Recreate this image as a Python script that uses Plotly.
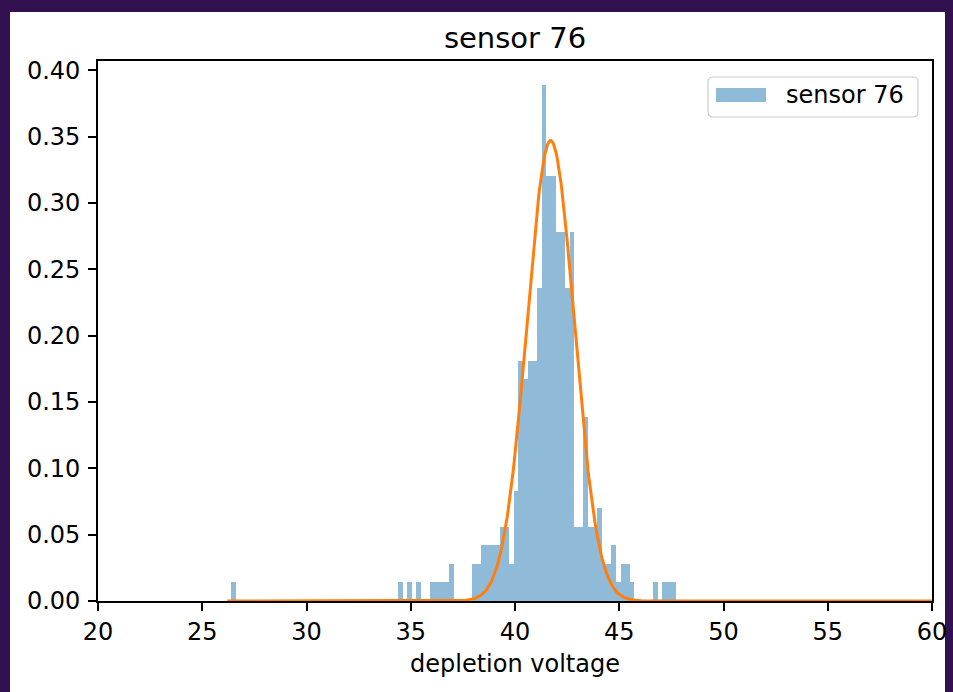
import numpy as np
import plotly.graph_objects as go

# ---------------- data ----------------
title_text = "sensor 76"
series_name = "sensor 76"
x_label = "depletion voltage"

bin_start = 26.15      # left edge of histogram bin 0
bin_width = 0.2225     # histogram bin width

# histogram bins (index from bin_start) and their density heights
bin_index = [1,
             37, 39, 41, 44, 45, 46, 47, 48,
             53, 54, 55, 56, 57, 58,
             59, 60, 61, 62,
             63, 64, 65, 66,
             67, 68, 69, 70,
             71, 72, 73, 74,
             75, 76, 77, 78, 79, 80,
             81, 82, 83, 84, 85, 86, 87,
             92, 94, 95, 96]
density = [0.014,
           0.014, 0.014, 0.014, 0.014, 0.014, 0.014, 0.014, 0.028,
           0.028, 0.028, 0.042, 0.042, 0.042, 0.042,
           0.056, 0.056, 0.028, 0.083,
           0.181, 0.167, 0.181, 0.181,
           0.236, 0.389, 0.320, 0.320,
           0.278, 0.278, 0.236, 0.278,
           0.056, 0.056, 0.139, 0.056, 0.056, 0.070,
           0.028, 0.028, 0.042, 0.014, 0.028, 0.028, 0.014,
           0.014, 0.014, 0.014, 0.014]

# gaussian fit parameters (orange curve)
fit_mu = 41.71
fit_sigma = 1.13
fit_amp = 0.347
fit_x_start = 26.2
fit_x_end = 60.0

x_ticks = [20, 25, 30, 35, 40, 45, 50, 55, 60]
y_ticks = [0.00, 0.05, 0.10, 0.15, 0.20, 0.25, 0.30, 0.35, 0.40]
x_range = [20, 60]
y_range = [0, 0.407]

# ---------------- figure ----------------
centers = [bin_start + (k + 0.5) * bin_width for k in bin_index]
fx = np.linspace(fit_x_start, fit_x_end, 800)
fy = fit_amp * np.exp(-(fx - fit_mu) ** 2 / (2 * fit_sigma ** 2))

FONT = "DejaVu Sans"
fig = go.Figure()
fig.add_trace(go.Bar(
    x=centers, y=density, width=bin_width, name=series_name,
    marker=dict(color="rgba(31,119,180,0.5)", line=dict(width=0)),
    showlegend=False,
))
fig.add_trace(go.Scatter(
    x=fx, y=fy, mode="lines", line=dict(color="#ff7f0e", width=3),
    showlegend=False,
))

W, H = 953, 692
ml, mr, mt, mb = 98, 21, 61, 91
pw, ph = W - ml - mr, H - mt - mb


def px_x(p):
    return (p - ml) / pw


def px_y(p):
    return (H - mb - p) / ph


shapes = []
# white "window" over the dark frame
shapes.append(dict(type="rect", xref="paper", yref="paper",
                   x0=px_x(10), x1=px_x(945), y0=px_y(H + 5), y1=px_y(12),
                   fillcolor="white", line=dict(width=0), layer="below"))

# custom matplotlib-like legend
bx0, bx1, by0, by1 = px_x(708), px_x(918), px_y(117), px_y(77)
rx, ry = 5 / pw, 5 / ph
path = (f"M {bx0+rx},{by1} L {bx1-rx},{by1} Q {bx1},{by1} {bx1},{by1-ry} "
        f"L {bx1},{by0+ry} Q {bx1},{by0} {bx1-rx},{by0} "
        f"L {bx0+rx},{by0} Q {bx0},{by0} {bx0},{by0+ry} "
        f"L {bx0},{by1-ry} Q {bx0},{by1} {bx0+rx},{by1} Z")
shapes.append(dict(type="path", xref="paper", yref="paper", path=path,
                   fillcolor="rgba(255,255,255,0.8)",
                   line=dict(color="#cccccc", width=1.2), layer="above"))
shapes.append(dict(type="rect", xref="paper", yref="paper",
                   x0=px_x(716), x1=px_x(766), y0=px_y(102), y1=px_y(88),
                   fillcolor="rgba(31,119,180,0.5)", line=dict(width=0),
                   layer="above"))

annotations = [dict(xref="paper", yref="paper", x=px_x(784), y=px_y(95),
                    xanchor="left", yanchor="middle", showarrow=False,
                    text=series_name, font=dict(family=FONT, size=24, color="#000"))]

fig.update_layout(
    width=W, height=H,
    margin=dict(l=ml, r=mr, t=mt, b=mb, pad=0, autoexpand=False),
    paper_bgcolor="#33104f",
    plot_bgcolor="white",
    bargap=0,
    font=dict(family=FONT, size=24, color="#000"),
    title=dict(text=title_text, x=515 / W, xanchor="center",
               y=1 - 38 / H, yanchor="middle",
               font=dict(family=FONT, size=29, color="#000")),
    shapes=shapes,
    annotations=annotations,
    xaxis=dict(range=x_range, tickvals=x_ticks, ticktext=[str(v) for v in x_ticks],
               showline=True, linecolor="black", linewidth=1.6, mirror=True,
               ticks="outside", ticklen=8, tickwidth=1.6, tickcolor="black",
               showgrid=False, zeroline=False, automargin=False,
               title=dict(text=x_label, standoff=11,
                          font=dict(family=FONT, size=24, color="#000")),
               tickfont=dict(family=FONT, size=24, color="#000")),
    yaxis=dict(range=y_range, tickvals=y_ticks,
               ticktext=[f"{v:.2f}" for v in y_ticks],
               showline=True, linecolor="black", linewidth=1.6, mirror=True,
               ticks="outside", ticklen=8, tickwidth=1.6, tickcolor="black",
               ticklabelstandoff=3,
               showgrid=False, zeroline=False, automargin=False,
               tickfont=dict(family=FONT, size=24, color="#000")),
)

fig.write_html("out.html")
